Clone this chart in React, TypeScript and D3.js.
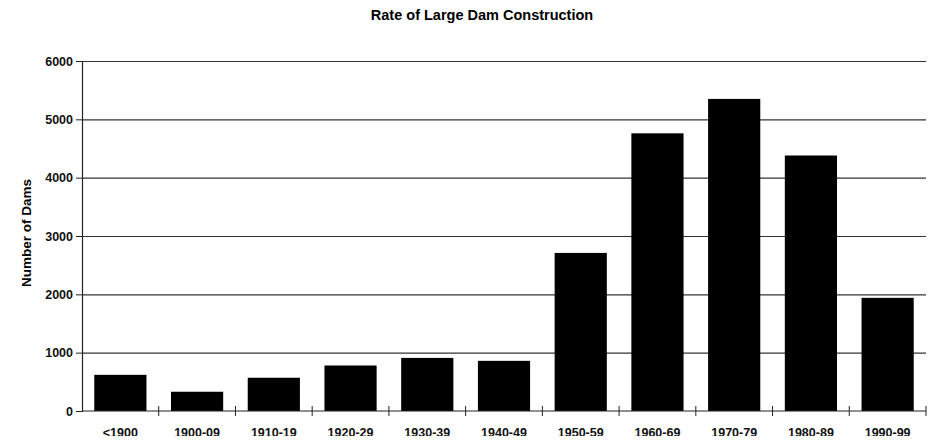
import React, { useRef, useEffect } from "react";
import * as d3 from "d3";

// decades and counts
const decades = ["<1900", "1900-09", "1910-19", "1920-29", "1930-39", "1940-49", "1950-59", "1960-69", "1970-79", "1980-89", "1990-99"];
const dams = [620, 330, 570, 780, 910, 860, 2710, 4760, 5350, 4380, 1940];
const yTicks = [0, 1000, 2000, 3000, 4000, 5000, 6000];

export default function App() {
  const ref = useRef<SVGSVGElement | null>(null);
  const width = 938, height = 444, margin = { top: 61, right: 12, bottom: 33, left: 82 };

  useEffect(() => {
    const svg = d3.select(ref.current);
    svg.selectAll("*").remove();
    const font = "Liberation Sans, Arial, sans-serif";

    const x = d3.scaleBand().domain(decades).range([margin.left, width - margin.right]).paddingInner(0.32).paddingOuter(0.16);
    const y = d3.scaleLinear().domain([0, 6000]).range([height - margin.bottom, margin.top]);

    // grid lines
    svg.append("g")
      .selectAll("line")
      .data(yTicks.slice(1))
      .join("line")
      .attr("x1", margin.left)
      .attr("x2", width - margin.right)
      .attr("y1", d => y(d) + 0.5)
      .attr("y2", d => y(d) + 0.5)
      .attr("stroke", "#333")
      .attr("stroke-width", 1.2);

    // bars
    svg.append("g")
      .selectAll("rect")
      .data(decades)
      .join("rect")
      .attr("x", d => x(d)!)
      .attr("width", x.bandwidth())
      .attr("y", (d, i) => y(dams[i]))
      .attr("height", (d, i) => y(0) - y(dams[i]))
      .attr("fill", "#000");

    // y axis
    const yAxis = svg.append("g")
      .attr("transform", `translate(${margin.left},0)`)
      .call(d3.axisLeft(y).tickValues(yTicks).tickSize(6).tickFormat(d3.format("d")));
    yAxis.select(".domain").attr("stroke", "#222").attr("stroke-width", 1.2);
    yAxis.selectAll(".tick line").attr("stroke", "#222");
    yAxis.selectAll("text").attr("font-family", font).attr("font-size", 12.5).attr("font-weight", "bold").attr("fill", "#111").attr("x", -9);

    // x axis, ticks between categories
    const edges = d3.range(decades.length + 1).map(i => margin.left + i * ((width - margin.left - margin.right) / decades.length));
    const xg = svg.append("g");
    xg.append("line")
      .attr("x1", margin.left).attr("x2", width - margin.right)
      .attr("y1", y(0)).attr("y2", y(0))
      .attr("stroke", "#222").attr("stroke-width", 1.2);
    xg.selectAll("line.tk")
      .data(edges.slice(1))
      .join("line")
      .attr("class", "tk")
      .attr("x1", d => d).attr("x2", d => d)
      .attr("y1", y(0) - 5).attr("y2", y(0) + 5)
      .attr("stroke", "#222");
    xg.selectAll("text")
      .data(decades)
      .join("text")
      .attr("x", d => x(d)! + x.bandwidth() / 2)
      .attr("y", height - 7)
      .attr("text-anchor", "middle")
      .attr("font-family", font)
      .attr("font-size", 12.5)
      .attr("font-weight", "bold")
      .attr("fill", "#111")
      .text(d => d);

    // title
    svg.append("text")
      .attr("x", 482)
      .attr("y", 20)
      .attr("text-anchor", "middle")
      .attr("font-family", font)
      .attr("font-size", 14.5)
      .attr("font-weight", "bold")
      .text("Rate of Large Dam Construction");

    // y label
    svg.append("text")
      .attr("transform", `translate(31,233) rotate(-90)`)
      .attr("text-anchor", "middle")
      .attr("font-family", font)
      .attr("font-size", 13.5)
      .attr("font-weight", "bold")
      .text("Number of Dams");
  }, []);

  return (
    <div style={{ margin: -8 }}>
      <svg ref={ref} width={width} height={height} style={{ display: "block" }} />
    </div>
  );
}
